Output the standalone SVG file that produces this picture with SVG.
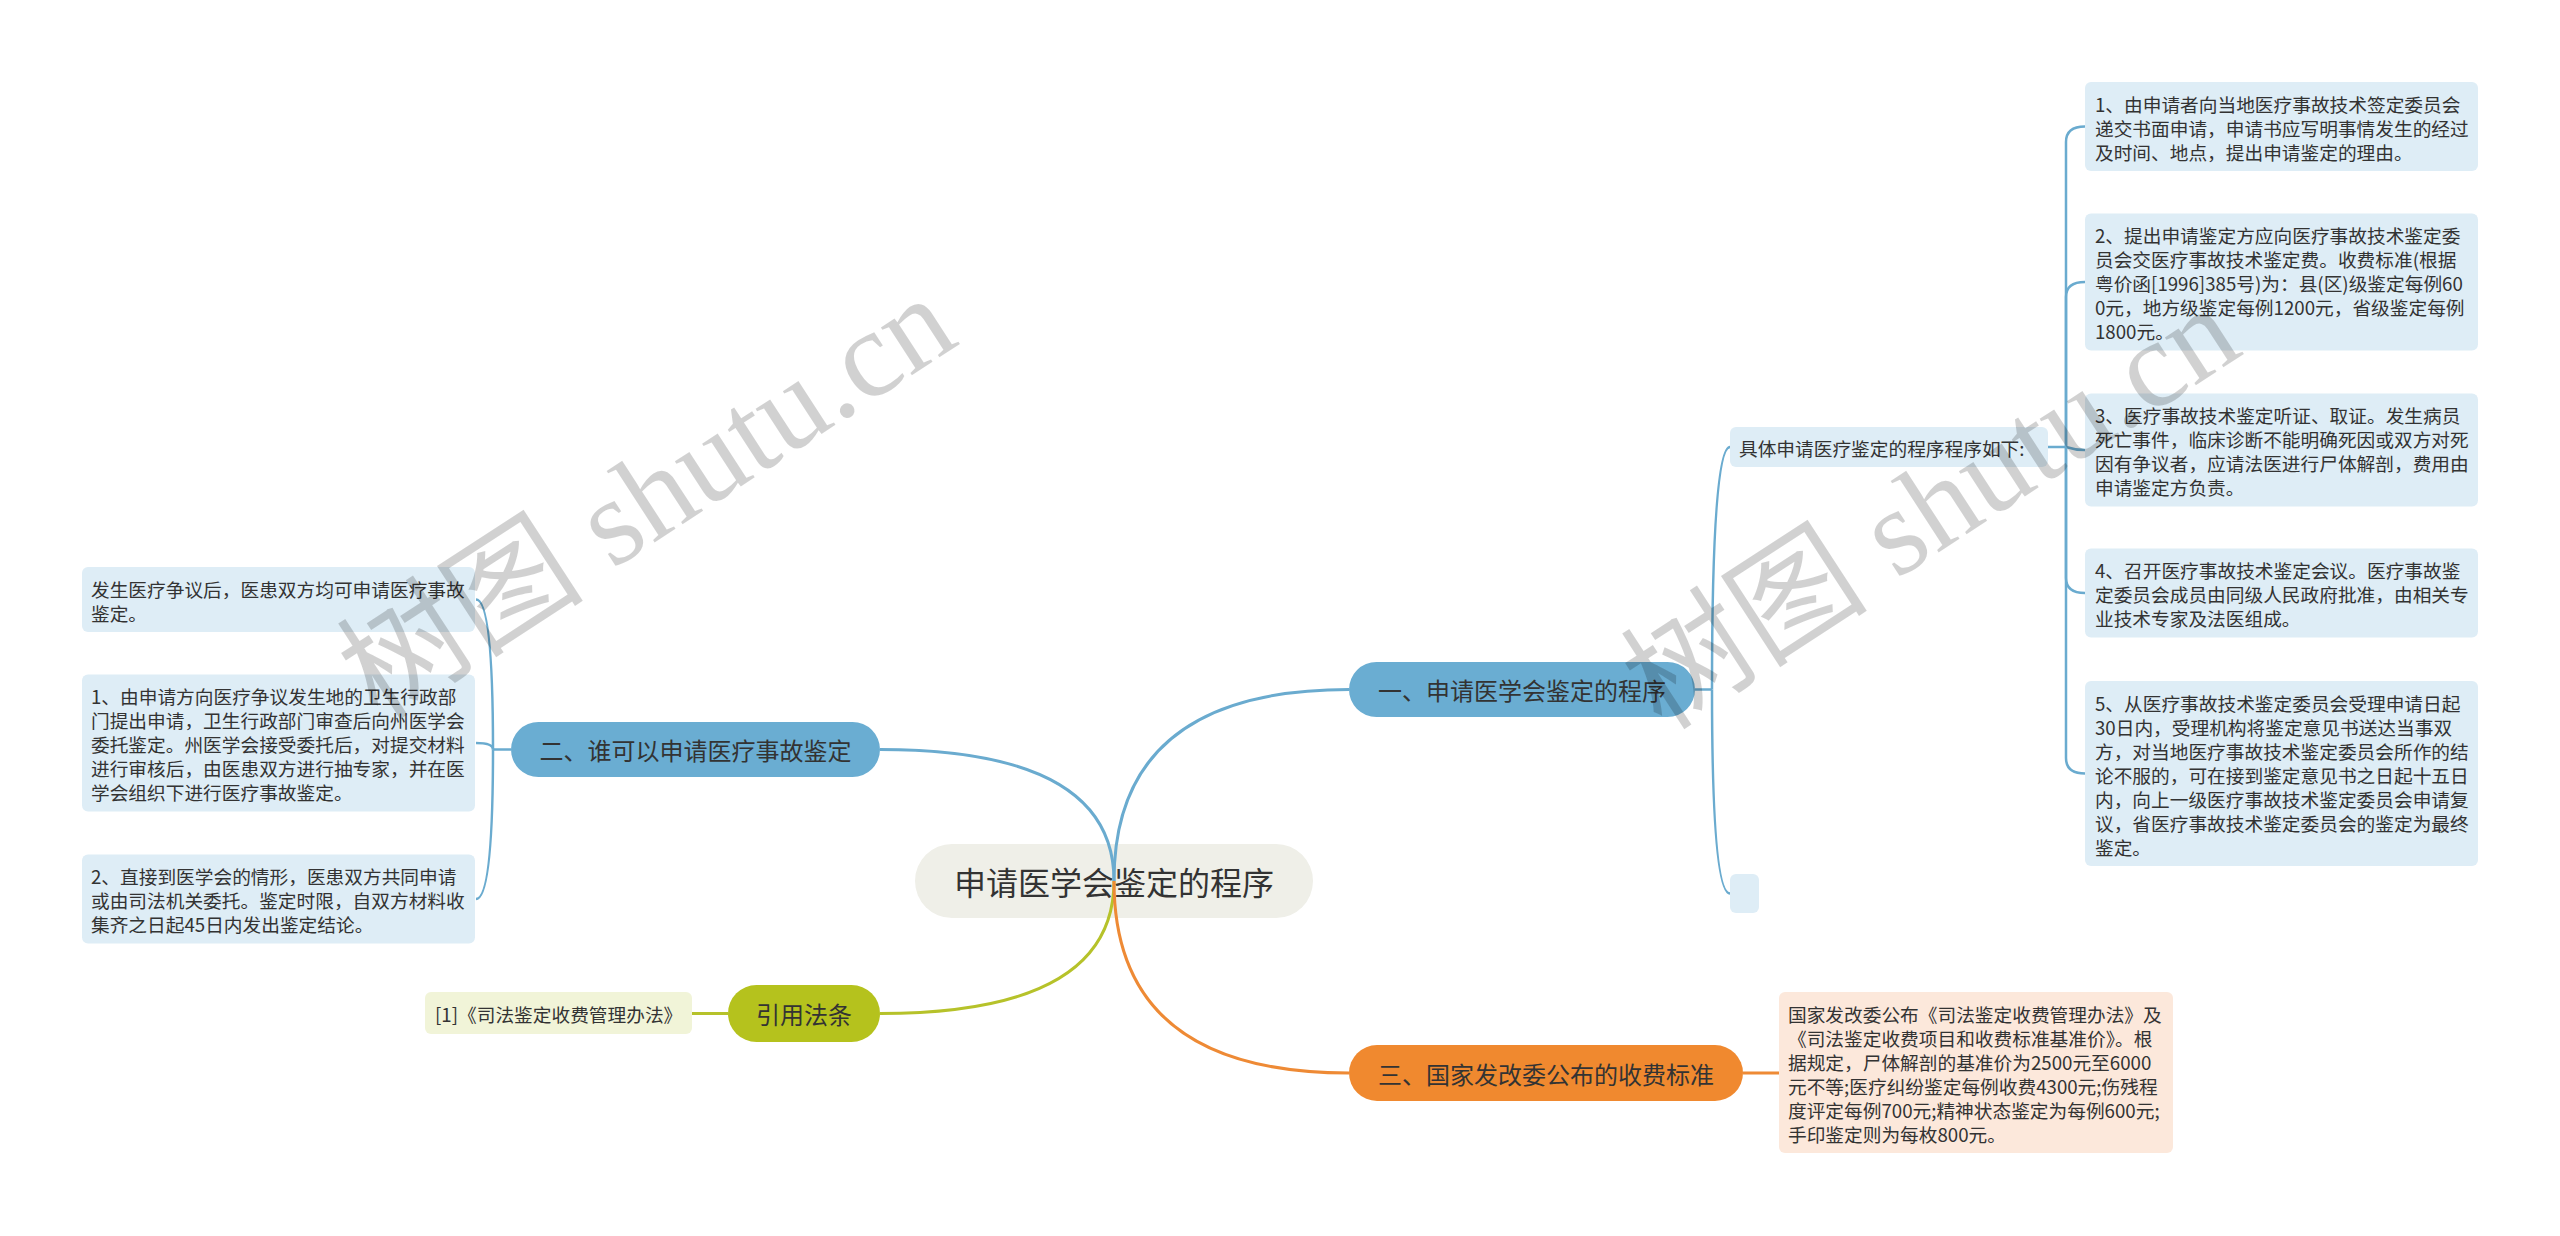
<svg xmlns="http://www.w3.org/2000/svg" width="2560" height="1236" viewBox="0 0 2560 1236">
<style>
.t{font-family:"Noto Sans CJK SC","Noto Sans",sans-serif;fill:#333;dominant-baseline:central}
.s{font-size:18.7px}
.m{font-size:24px;text-anchor:middle}
.leaf{fill:#deedf6}
.bl{fill:#6aadd2}
.cb{stroke:#6aabcf;fill:none;stroke-width:3}
.cbs{stroke:#6aabcf;fill:none;stroke-width:2.5}
.co{stroke:#ee8a35;fill:none;stroke-width:3}
.cg{stroke:#b6c22a;fill:none;stroke-width:3}
.wm{font-family:"Liberation Serif","Noto Sans CJK SC",serif;font-size:124px;fill:#000;fill-opacity:0.18}
</style>
<rect width="2560" height="1236" fill="#ffffff"/>
<g id="root">
<rect x="915" y="844" width="398" height="74" rx="37" fill="#efefe8"/>
<text class="t" x="1114" y="881" font-size="32" text-anchor="middle" fill="#222">申请医学会鉴定的程序</text>
</g>
<g id="connectors">
<path class="cb" d="M1114,881 Q1114,689.5 1349,689.5"/>
<path class="cb" d="M1114,881 Q1114,749.5 880,749.5"/>
<path class="cg" d="M1114,881 Q1114,1013.5 880,1013.5"/>
<path class="co" d="M1114,881 Q1114,1073 1349,1073"/>
<path class="cbs" d="M1695,689.5 H1712"/>
<path class="cbs" d="M1712,689.5 Q1712,447 1730,447"/>
<path class="cbs" d="M1712,689.5 Q1712,893.5 1730,893.5"/>
<path class="cbs" d="M2048,447 H2066"/>
<path class="cbs" d="M2066,447 V142 Q2066,126.5 2085,126.5"/>
<path class="cbs" d="M2066,447 V297 Q2066,282 2085,282"/>
<path class="cbs" d="M2066,447 Q2075,450 2085,450"/>
<path class="cbs" d="M2066,447 V578 Q2066,593 2085,593"/>
<path class="cbs" d="M2066,447 V758 Q2066,773.5 2085,773.5"/>
<path class="cbs" d="M511,749.5 H493"/>
<path class="cbs" d="M493,749.5 Q493,599.5 476,599.5"/>
<path class="cbs" d="M493,749.5 Q493,743 476,743"/>
<path class="cbs" d="M493,749.5 Q493,899 476,899"/>
<path class="co" stroke-width="2.5" d="M1743,1073 H1779"/>
<path class="cg" stroke-width="2.5" d="M728,1013.5 H692"/>
</g>
<g id="n1">
<rect class="bl" x="1349" y="662" width="346" height="55" rx="27.5"/>
<text class="t m" x="1522" y="689.5">一、申请医学会鉴定的程序</text>
</g>
<g id="n1-1">
<rect class="leaf" x="1730" y="427" width="318" height="40" rx="6"/>
<text class="t s" x="1739" y="447">具体申请医疗鉴定的程序程序如下:</text>
</g>
<g id="n1-2">
<rect class="leaf" x="1730" y="874" width="29" height="39" rx="6"/>
</g>
<g id="n1-1-1">
<rect class="leaf" x="2085" y="82" width="393" height="89" rx="6"/>
<text class="t s"><tspan x="2095" y="102.5">1、由申请者向当地医疗事故技术签定委员会</tspan><tspan x="2095" y="126.5">递交书面申请，申请书应写明事情发生的经过</tspan><tspan x="2095" y="150.5">及时间、地点，提出申请鉴定的理由。</tspan></text>
</g>
<g id="n1-1-2">
<rect class="leaf" x="2085" y="213.5" width="393" height="137" rx="6"/>
<text class="t s"><tspan x="2095" y="234">2、提出申请鉴定方应向医疗事故技术鉴定委</tspan><tspan x="2095" y="258">员会交医疗事故技术鉴定费。收费标准(根据</tspan><tspan x="2095" y="282">粤价函[1996]385号)为：县(区)级鉴定每例60</tspan><tspan x="2095" y="306">0元，地方级鉴定每例1200元，省级鉴定每例</tspan><tspan x="2095" y="330">1800元。</tspan></text>
</g>
<g id="n1-1-3">
<rect class="leaf" x="2085" y="393.5" width="393" height="113" rx="6"/>
<text class="t s"><tspan x="2095" y="414">3、医疗事故技术鉴定听证、取证。发生病员</tspan><tspan x="2095" y="438">死亡事件，临床诊断不能明确死因或双方对死</tspan><tspan x="2095" y="462">因有争议者，应请法医进行尸体解剖，费用由</tspan><tspan x="2095" y="486">申请鉴定方负责。</tspan></text>
</g>
<g id="n1-1-4">
<rect class="leaf" x="2085" y="548.5" width="393" height="89" rx="6"/>
<text class="t s"><tspan x="2095" y="569">4、召开医疗事故技术鉴定会议。医疗事故鉴</tspan><tspan x="2095" y="593">定委员会成员由同级人民政府批准，由相关专</tspan><tspan x="2095" y="617">业技术专家及法医组成。</tspan></text>
</g>
<g id="n1-1-5">
<rect class="leaf" x="2085" y="681" width="393" height="185" rx="6"/>
<text class="t s"><tspan x="2095" y="701.5">5、从医疗事故技术鉴定委员会受理申请日起</tspan><tspan x="2095" y="725.5">30日内，受理机构将鉴定意见书送达当事双</tspan><tspan x="2095" y="749.5">方，对当地医疗事故技术鉴定委员会所作的结</tspan><tspan x="2095" y="773.5">论不服的，可在接到鉴定意见书之日起十五日</tspan><tspan x="2095" y="797.5">内，向上一级医疗事故技术鉴定委员会申请复</tspan><tspan x="2095" y="821.5">议，省医疗事故技术鉴定委员会的鉴定为最终</tspan><tspan x="2095" y="845.5">鉴定。</tspan></text>
</g>
<g id="n2">
<rect class="bl" x="511" y="722" width="369" height="55" rx="27.5"/>
<text class="t m" x="695.5" y="749.5">二、谁可以申请医疗事故鉴定</text>
</g>
<g id="n2-1">
<rect class="leaf" x="82" y="567" width="393" height="65" rx="6"/>
<text class="t s"><tspan x="91" y="587.5">发生医疗争议后，医患双方均可申请医疗事故</tspan><tspan x="91" y="611.5">鉴定。</tspan></text>
</g>
<g id="n2-2">
<rect class="leaf" x="82" y="674.5" width="393" height="137" rx="6"/>
<text class="t s"><tspan x="91" y="695">1、由申请方向医疗争议发生地的卫生行政部</tspan><tspan x="91" y="719">门提出申请，卫生行政部门审查后向州医学会</tspan><tspan x="91" y="743">委托鉴定。州医学会接受委托后，对提交材料</tspan><tspan x="91" y="767">进行审核后，由医患双方进行抽专家，并在医</tspan><tspan x="91" y="791">学会组织下进行医疗事故鉴定。</tspan></text>
</g>
<g id="n2-3">
<rect class="leaf" x="82" y="854.5" width="393" height="89" rx="6"/>
<text class="t s"><tspan x="91" y="875">2、直接到医学会的情形，医患双方共同申请</tspan><tspan x="91" y="899">或由司法机关委托。鉴定时限，自双方材料收</tspan><tspan x="91" y="923">集齐之日起45日内发出鉴定结论。</tspan></text>
</g>
<g id="n3">
<rect x="1349" y="1045" width="394" height="56" rx="28" fill="#f0892f"/>
<text class="t m" x="1546" y="1073">三、国家发改委公布的收费标准</text>
</g>
<g id="n3-1">
<rect x="1779" y="992" width="394" height="161" rx="6" fill="#fce8db"/>
<text class="t s"><tspan x="1788" y="1013">国家发改委公布《司法鉴定收费管理办法》及</tspan><tspan x="1788" y="1037">《司法鉴定收费项目和收费标准基准价》。根</tspan><tspan x="1788" y="1061">据规定，尸体解剖的基准价为2500元至6000</tspan><tspan x="1788" y="1085">元不等;医疗纠纷鉴定每例收费4300元;伤残程</tspan><tspan x="1788" y="1109">度评定每例700元;精神状态鉴定为每例600元;</tspan><tspan x="1788" y="1133">手印鉴定则为每枚800元。</tspan></text>
</g>
<g id="n4">
<rect x="728" y="985" width="152" height="57" rx="28.5" fill="#b5c21d"/>
<text class="t m" x="804" y="1013.5">引用法条</text>
</g>
<g id="n4-1">
<rect x="425" y="992" width="267" height="42" rx="6" fill="#f1f4d8"/>
<text class="t s" x="435" y="1013">[1]《司法鉴定收费管理办法》</text>
</g>
<g id="watermark">
<text class="wm" x="378" y="722" transform="rotate(-33 378 722)">树图 shutu.cn</text>
<text class="wm" x="1662" y="732" transform="rotate(-33 1662 732)">树图 shutu.cn</text>
</g>
</svg>
